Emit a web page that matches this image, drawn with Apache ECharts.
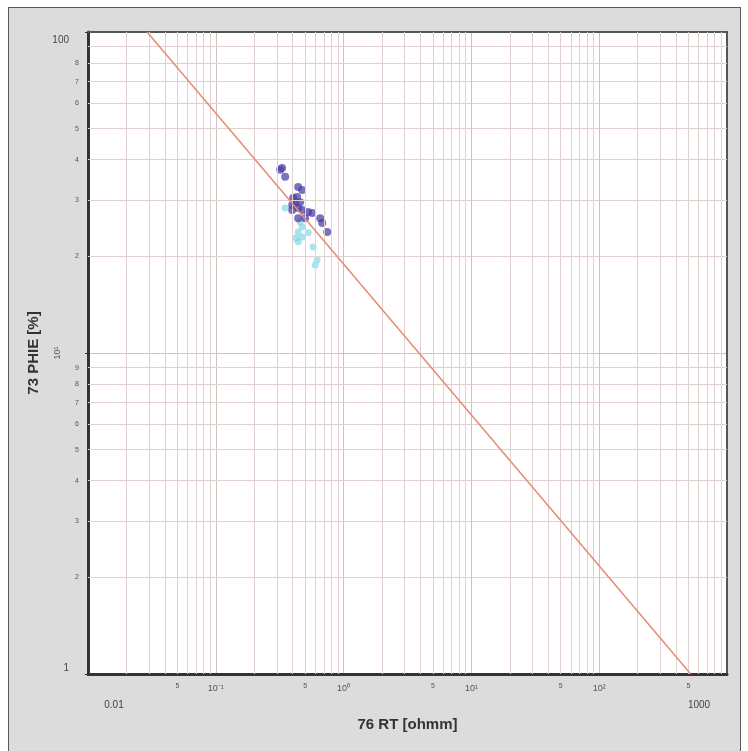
<!DOCTYPE html>
<html>
<head>
<meta charset="utf-8">
<script src="https://cdn.jsdelivr.net/npm/echarts@6/dist/echarts.min.js"></script>
<style>
html,body{margin:0;padding:0;background:#fff;}
#frame{position:absolute;left:8px;top:7px;width:731px;height:760px;border:1px solid #5a5a5a;background:#dcdcdc;}
#chart{position:absolute;left:0;top:0;width:748px;height:751px;}
</style>
</head>
<body>
<div id="frame"></div>
<div id="chart"></div>
<script>
// crossplot RT vs PHIE, log-log
var rtDark   = [0.330, 0.319, 0.349, 0.441, 0.474, 0.433, 0.403, 0.457, 0.418, 0.396, 0.441, 0.528, 0.396, 0.474, 0.568, 0.656, 0.441, 0.500, 0.680, 0.744];
var phieDark = [37.7, 37.2, 35.4, 32.9, 32.2, 30.6, 30.4, 29.5, 29.3, 28.9, 28.3, 27.5, 27.9, 27.9, 27.3, 26.3, 26.3, 26.3, 25.4, 23.8];
var rtLight   = [0.349, 0.457, 0.474, 0.441, 0.474, 0.425, 0.528, 0.441, 0.578, 0.621, 0.599];
var phieLight = [28.3, 25.6, 24.7, 23.8, 23.0, 22.8, 23.7, 22.2, 21.4, 19.5, 18.8];
// archie line
var lineRt   = [0.029, 520];
var linePhie = [100, 1];

// axis ticks / labels
var xDecades = [0.01, 0.1, 1, 10, 100, 1000];
var xDecadeLabels = ['0.01', '10⁻¹', '10⁰', '10¹', '10²', '1000'];
var xFiveTicks = [0.05, 0.5, 5, 50, 500];
var xFiveLabel = '5';
var yDecades = [1, 10, 100];
var yDecadeLabels = ['1', '10¹', '100'];
var yMinorTicks = [20, 30, 40, 50, 60, 70, 80, 2, 3, 4, 5, 6, 7, 8, 9];
var yMinorLabels = ['2', '3', '4', '5', '6', '7', '8', '2', '3', '4', '5', '6', '7', '8', '9'];
var mults = [2, 3, 4, 5, 6, 7, 8, 9];

var gridColor = '#e0d0d0';
var dom = document.getElementById('chart');
var myChart = echarts.init(dom);

var darkData = rtDark.map(function (v, i) { return [v, phieDark[i]]; });
var lightData = rtLight.map(function (v, i) { return [v, phieLight[i]]; });
var lineData = lineRt.map(function (v, i) { return [v, linePhie[i]]; });

// minor grid lines through markLine
var gridLines = [];
xDecades.slice(0, -1).forEach(function (d) {
  mults.forEach(function (m) {
    var v = +(d * m).toPrecision(3);
    var item = { xAxis: v, label: { show: false } };
    if (xFiveTicks.indexOf(v) >= 0) {
      item.label = { show: true, formatter: xFiveLabel };
    }
    gridLines.push(item);
  });
});
[1, 10].forEach(function (d) {
  mults.forEach(function (m) {
    var v = d * m;
    var k = yMinorTicks.indexOf(v);
    var item = { yAxis: v, label: { show: false } };
    if (k >= 0) item.label = { show: true, formatter: yMinorLabels[k] };
    gridLines.push(item);
  });
});

function decIdx(arr, v) {
  for (var i = 0; i < arr.length; i++) {
    if (Math.abs(Math.log10(arr[i]) - Math.log10(v)) < 1e-6) return i;
  }
  return -1;
}

var fontFam = 'Arial, "Liberation Sans", sans-serif';

var option = {
  animation: false,
  backgroundColor: 'transparent',
  grid: { left: 88, right: 21, top: 32, bottom: 77, show: true, backgroundColor: '#ffffff', borderWidth: 0 },
  xAxis: [{
    type: 'log', logBase: 10, min: 0.01, max: 1000,
    name: '76 RT [ohmm]', nameLocation: 'middle', nameGap: 43,
    nameTextStyle: { fontFamily: fontFam, fontWeight: 'bold', fontSize: 15, color: '#333' },
    axisLine: { lineStyle: { color: '#333', width: 3 } },
    axisTick: { show: false },
    splitLine: { show: true, lineStyle: { color: '#d4bfbf', width: 1 } },
    axisLabel: {
      margin: 10, fontFamily: fontFam, color: '#555', fontSize: 9,
      formatter: function (v) {
        var i = decIdx(xDecades, v);
        if (i === 0) return '{first|' + xDecadeLabels[i] + '}';
        if (i === xDecades.length - 1) return '{last|' + xDecadeLabels[i] + '}';
        return i >= 0 ? xDecadeLabels[i] : '';
      },
      rich: {
        first: { fontFamily: fontFam, fontSize: 10, color: '#444', padding: [16, 0, 0, 52] },
        last: { fontFamily: fontFam, fontSize: 10, color: '#444', padding: [16, 56, 0, 0] }
      }
    }
  }, {
    type: 'value', position: 'top', min: 0, max: 1,
    axisLine: { show: true, lineStyle: { color: '#555', width: 2 } },
    axisTick: { show: false }, axisLabel: { show: false }, splitLine: { show: false }
  }],
  yAxis: [{
    type: 'log', logBase: 10, min: 1, max: 100,
    name: '73 PHIE [%]', nameLocation: 'middle', nameGap: 47,
    nameTextStyle: { fontFamily: fontFam, fontWeight: 'bold', fontSize: 15, color: '#333' },
    axisLine: { lineStyle: { color: '#333', width: 3 } },
    axisTick: { show: true, length: 3, lineStyle: { color: '#333' } },
    splitLine: { show: true, lineStyle: { color: '#d4bfbf', width: 1 } },
    axisLabel: {
      margin: 19, fontFamily: fontFam, color: '#444', fontSize: 10,
      formatter: function (v) {
        var i = decIdx(yDecades, v);
        if (i === 2) return '{top|' + yDecadeLabels[i] + '}';
        if (i === 0) return '{bot|' + yDecadeLabels[i] + '}';
        return '';
      },
      rich: {
        top: { fontFamily: fontFam, fontSize: 10, color: '#444', padding: [16, 0, 0, 0] },
        bot: { fontFamily: fontFam, fontSize: 10, color: '#444', padding: [0, 0, 12, 0] }
      }
    }
  }, {
    type: 'value', position: 'right', min: 0, max: 1,
    axisLine: { show: true, lineStyle: { color: '#555', width: 2 } },
    axisTick: { show: false }, axisLabel: { show: false }, splitLine: { show: false }
  }],
  series: [
    {
      name: 'grid', type: 'scatter', data: [], z: 1, silent: true,
      markLine: {
        silent: true, symbol: 'none', animation: false,
        lineStyle: { color: gridColor, width: 1, type: 'solid' },
        label: { position: 'start', distance: 9, fontFamily: fontFam, fontSize: 7, color: '#555' },
        emphasis: { disabled: true },
        data: gridLines
      }
    },
    {
      name: 'light', type: 'scatter', data: lightData, z: 3,
      symbol: 'circle', symbolSize: 7,
      itemStyle: { color: 'rgba(130,214,228,0.85)' }
    },
    {
      name: 'dark', type: 'scatter', data: darkData, z: 4,
      symbol: 'circle', symbolSize: 8,
      itemStyle: { color: 'rgba(72,60,165,0.9)' }
    },
    {
      name: 'archie', type: 'line', data: lineData, z: 5,
      showSymbol: false, symbol: 'none',
      lineStyle: { color: '#e68a76', width: 1.5 }
    }
  ]
};
myChart.setOption(option);

// rotated 10^1 label on the y axis
var py = myChart.convertToPixel({ yAxisIndex: 0 }, yDecades[1]);
myChart.setOption({
  graphic: [{
    type: 'text', x: 58, y: py, rotation: Math.PI / 2,
    style: { text: yDecadeLabels[1], fontFamily: fontFam, fontSize: 9, fill: '#555', align: 'center', verticalAlign: 'middle' }
  }]
});
window.onresize = myChart.resize;
</script>
</body>
</html>
